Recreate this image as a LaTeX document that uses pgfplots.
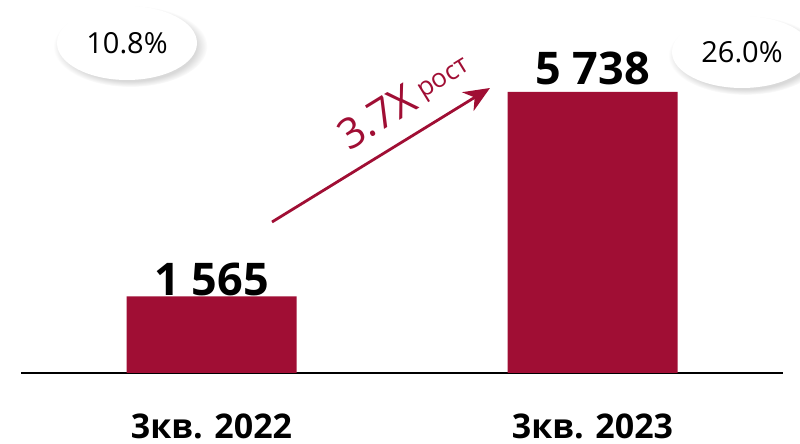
\documentclass[border=0pt]{standalone}
\usepackage{pgfplots}
\pgfplotsset{compat=1.18}
\usepackage{fontspec}
\setmainfont{Open Sans}
\newcommand{\semib}{\bfseries}
\usetikzlibrary{arrows.meta,shadows,shapes.geometric}
\definecolor{barred}{RGB}{160,14,52}
\begin{document}
\begin{tikzpicture}
\path[use as bounding box] (0,0) rectangle (400pt,222pt);
\begin{axis}[
  at={(10.5pt,35.5pt)}, anchor=south west,
  scale only axis, width=381pt, height=186pt,
  xmin=-0.5, xmax=1.5, ymin=0, ymax=7596,
  axis x line*=bottom, axis y line=none,
  axis line style={line width=1pt, black, -},
  xtick={0,1}, xticklabels={3кв. 2022,3кв. 2023},
  major tick length=0pt,
  ytick=\empty,
  xticklabel style={font=\semib\fontsize{17}{17}\selectfont, yshift=-17pt},
  clip=false,
]
\addplot[ybar, bar width=85pt, fill=barred, draw=none,
  nodes near coords, point meta=explicit symbolic,
  every node near coord/.style={font=\semib\fontsize{22.5}{22.5}\selectfont, black, anchor=south, inner sep=1pt, yshift=-1pt}]
  coordinates {(0,1565) [1 565] (1,5738) [\raisebox{3.5pt}{5 738}]};
\end{axis}
\begin{scope}[x=0.5pt,y=-0.5pt,shift={(0pt,222pt)}]
\node[ellipse, fill=white, minimum width=70pt, minimum height=37pt, inner sep=0pt,
  circular drop shadow={shadow xshift=1.5pt, shadow yshift=-1.5pt, shadow scale=1.1, opacity=0.3}]
  at (127,43) {\fontsize{14.5}{14.5}\selectfont 10.8\%};
\node[ellipse, fill=white, minimum width=70pt, minimum height=36pt, inner sep=0pt,
  circular drop shadow={shadow xshift=1.5pt, shadow yshift=-1.5pt, shadow scale=1.1, opacity=0.3}]
  at (742,52) {\fontsize{14.5}{14.5}\selectfont 26.0\%};
\draw[barred, line width=1.4pt, -{Stealth[length=13pt, width=11pt, inset=4pt]}] (272,222) -- (490,88);
\node[barred, rotate=31.6, inner sep=0pt] at (404,100)
  {\fontsize{21}{21}\selectfont 3.7X\,\fontsize{13}{13}\selectfont\raisebox{3pt}{рост}};
\end{scope}
\end{tikzpicture}
\end{document}
